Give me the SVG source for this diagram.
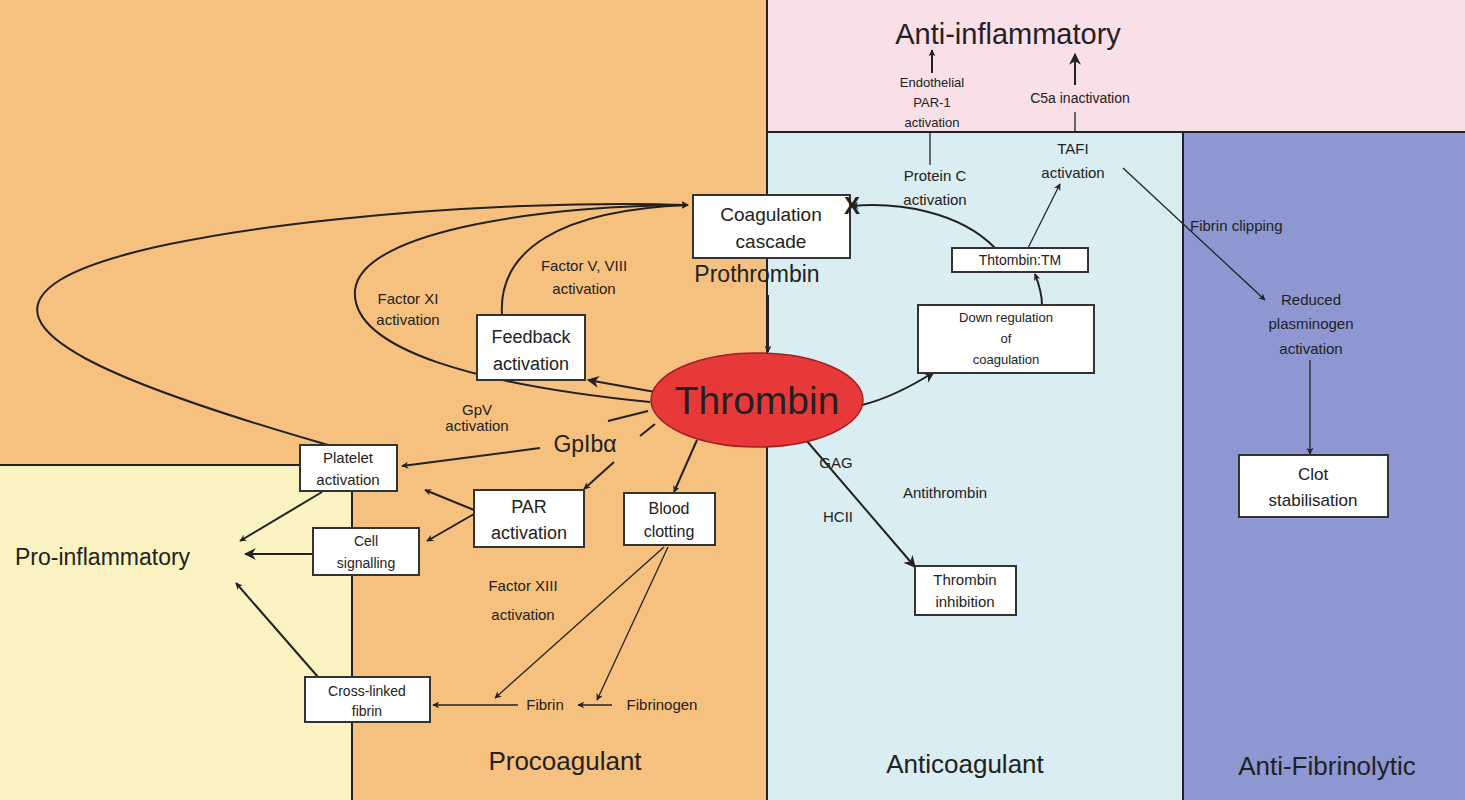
<svg xmlns="http://www.w3.org/2000/svg" width="1465" height="800" viewBox="0 0 1465 800">
<defs>
<style>
text{font-family:"Liberation Sans",Arial,sans-serif;fill:#222}
.box{fill:#fff;stroke:#333;stroke-width:2}
.c{text-anchor:middle}
.ln{fill:none;stroke:#222;stroke-width:2}
.th{fill:none;stroke:#222;stroke-width:1.3}
</style>
<marker id="a" viewBox="0 0 10 10" refX="9" refY="5" markerWidth="7" markerHeight="7" orient="auto" markerUnits="userSpaceOnUse"><path d="M0,0L10,5L0,10L3,5z" fill="#222"/></marker>
<marker id="b" viewBox="0 0 10 10" refX="9" refY="5" markerWidth="12" markerHeight="12" orient="auto" markerUnits="userSpaceOnUse"><path d="M0,0L10,5L0,10L3,5z" fill="#222"/></marker>
</defs>
<g id="background">
<rect x="0" y="0" width="768" height="800" fill="#f6c17f"/>
<rect x="0" y="465" width="352" height="335" fill="#fbf2c1"/>
<rect x="768" y="0" width="697" height="132" fill="#f8dfe8"/>
<rect x="768" y="132" width="415" height="668" fill="#d9edf3"/>
<rect x="1183" y="132" width="282" height="668" fill="#8f97d2"/>
<path d="M767,0V800M767,132H1465M1183,132V800M0,465H300M352,491V800" stroke="#222" stroke-width="2" fill="none"/>
</g>
<g id="labels">
<text x="1008" y="44" class="c" font-size="29">Anti-inflammatory</text>
<text x="15" y="565" font-size="23">Pro-inflammatory</text>
<text x="565" y="770" class="c" font-size="26">Procoagulant</text>
<text x="965" y="773" class="c" font-size="26">Anticoagulant</text>
<text x="1327" y="775" class="c" font-size="26">Anti-Fibrinolytic</text>
<text x="932" y="87" class="c" font-size="13">Endothelial</text>
<text x="932" y="107" class="c" font-size="13">PAR-1</text>
<text x="932" y="127" class="c" font-size="13">activation</text>
<text x="1080" y="103" class="c" font-size="14">C5a inactivation</text>
<text x="935" y="181" class="c" font-size="15">Protein C</text>
<text x="935" y="205" class="c" font-size="15">activation</text>
<text x="1073" y="154" class="c" font-size="15">TAFI</text>
<text x="1073" y="178" class="c" font-size="15">activation</text>
<text x="1190" y="231" font-size="15">Fibrin clipping</text>
<text x="1311" y="305" class="c" font-size="15">Reduced</text>
<text x="1311" y="329" class="c" font-size="15">plasminogen</text>
<text x="1311" y="354" class="c" font-size="15">activation</text>
<text x="408" y="304" class="c" font-size="15">Factor XI</text>
<text x="408" y="325" class="c" font-size="15">activation</text>
<text x="584" y="271" class="c" font-size="15">Factor V, VIII</text>
<text x="584" y="294" class="c" font-size="15">activation</text>
<text x="477" y="415" class="c" font-size="15">GpV</text>
<text x="477" y="431" class="c" font-size="15">activation</text>
<text x="585" y="452" class="c" font-size="23">GpIbα</text>
<text x="523" y="591" class="c" font-size="15">Factor XIII</text>
<text x="523" y="620" class="c" font-size="15">activation</text>
<text x="545" y="710" class="c" font-size="15">Fibrin</text>
<text x="662" y="710" class="c" font-size="15">Fibrinogen</text>
<text x="757" y="282" class="c" font-size="23">Prothrombin</text>
<text x="836" y="468" class="c" font-size="15">GAG</text>
<text x="945" y="498" class="c" font-size="15">Antithrombin</text>
<text x="838" y="522" class="c" font-size="15">HCII</text>
</g>
<g id="connectors">
<path class="ln" marker-end="url(#a)" d="M328,445C120,385 -20,330 60,280C150,225 500,198 688,205"/>
<path class="ln" marker-end="url(#a)" d="M650,402C480,385 350,350 355,290C362,228 560,205 688,205"/>
<path class="ln" marker-end="url(#a)" d="M502,315C498,250 560,210 688,205"/>
<path class="ln" marker-end="url(#a)" d="M768,295V352"/>
<path class="ln" marker-end="url(#b)" d="M655,392L588,380"/>
<path class="ln" d="M648,411L608,421"/>
<path class="ln" marker-end="url(#a)" d="M540,448L402,466"/>
<path class="ln" d="M655,424L640,436"/>
<path class="ln" marker-end="url(#a)" d="M614,462L584,489"/>
<path class="ln" marker-end="url(#a)" d="M697,440L674,492"/>
<path class="ln" marker-end="url(#a)" d="M474,510L425,490"/>
<path class="ln" marker-end="url(#a)" d="M474,514L427,541"/>
<path class="ln" marker-end="url(#a)" d="M322,492L240,541"/>
<path class="ln" stroke-width="3" marker-end="url(#b)" d="M313,554L245,554"/>
<path class="ln" marker-end="url(#a)" d="M318,677L236,583"/>
<path class="th" marker-end="url(#a)" d="M664,547L495,698"/>
<path class="th" marker-end="url(#a)" d="M668,547L597,700"/>
<path class="th" marker-end="url(#a)" d="M612,705L578,705"/>
<path class="th" marker-end="url(#a)" d="M518,705L433,705"/>
<path class="ln" marker-end="url(#b)" d="M862,405C890,398 912,386 934,372"/>
<path class="ln" marker-end="url(#a)" d="M1042,305C1042,292 1038,282 1035,274"/>
<path class="ln" marker-end="url(#a)" d="M995,248C960,212 900,202 852,206"/>
<path class="th" marker-end="url(#a)" d="M1028,248L1060,184"/>
<path class="th" d="M930,165V132"/>
<path class="ln" marker-end="url(#a)" d="M932,73V50"/>
<path class="th" d="M1075,133V112"/>
<path class="ln" marker-end="url(#b)" d="M1075,85V54"/>
<path class="th" marker-end="url(#a)" d="M1123,168L1265,300"/>
<path class="th" marker-end="url(#a)" d="M1310,360V454"/>
<path class="ln" marker-end="url(#b)" d="M806,440L915,567"/>
</g>
<g id="coagulation"><rect class="box" x="693" y="195" width="157" height="63"/><text x="771" y="221" class="c" font-size="19">Coagulation</text><text x="771" y="248" class="c" font-size="19">cascade</text></g>
<g id="thrombin"><ellipse cx="757" cy="400" rx="106" ry="47" fill="#e8393a" stroke="#a02020" stroke-width="1.5"/><text x="757" y="414" class="c" font-size="39">Thrombin</text></g>
<g id="feedback"><rect class="box" x="477" y="315" width="108" height="65"/><text x="531" y="343" class="c" font-size="18">Feedback</text><text x="531" y="370" class="c" font-size="18">activation</text></g>
<g id="platelet"><rect class="box" x="300" y="445" width="97" height="46"/><text x="348" y="463" class="c" font-size="15">Platelet</text><text x="348" y="485" class="c" font-size="15">activation</text></g>
<g id="cell"><rect class="box" x="313" y="528" width="106" height="47"/><text x="366" y="546" class="c" font-size="14">Cell</text><text x="366" y="568" class="c" font-size="14">signalling</text></g>
<g id="par"><rect class="box" x="474" y="490" width="110" height="57"/><text x="529" y="513" class="c" font-size="18">PAR</text><text x="529" y="539" class="c" font-size="18">activation</text></g>
<g id="blood"><rect class="box" x="624" y="493" width="91" height="52"/><text x="669" y="514" class="c" font-size="16">Blood</text><text x="669" y="537" class="c" font-size="16">clotting</text></g>
<g id="crosslinked"><rect class="box" x="305" y="677" width="125" height="45"/><text x="367" y="696" class="c" font-size="14">Cross-linked</text><text x="367" y="716" class="c" font-size="14">fibrin</text></g>
<g id="thrombintm"><rect class="box" x="952" y="248" width="136" height="24"/><text x="1020" y="265" class="c" font-size="14">Thtombin:TM</text></g>
<g id="downreg"><rect class="box" x="918" y="305" width="176" height="68"/><text x="1006" y="322" class="c" font-size="13">Down regulation</text><text x="1006" y="343" class="c" font-size="13">of</text><text x="1006" y="364" class="c" font-size="13">coagulation</text></g>
<g id="inhibition"><rect class="box" x="915" y="566" width="101" height="49"/><text x="965" y="585" class="c" font-size="15">Thrombin</text><text x="965" y="607" class="c" font-size="15">inhibition</text></g>
<g id="clot"><rect class="box" x="1239" y="455" width="149" height="62"/><text x="1313" y="480" class="c" font-size="17">Clot</text><text x="1313" y="506" class="c" font-size="17">stabilisation</text></g>
<g id="blockmark"><text x="852" y="214" class="c" font-size="24" font-weight="bold">X</text></g>
</svg>
